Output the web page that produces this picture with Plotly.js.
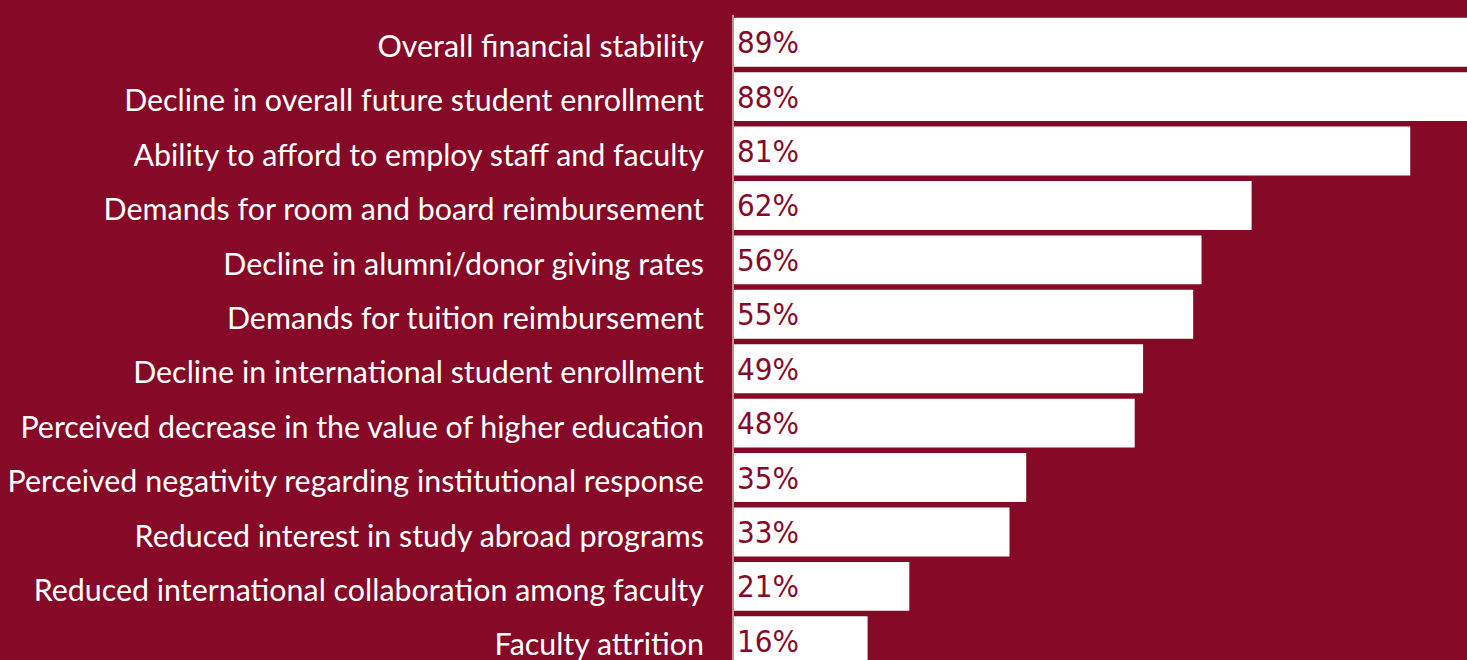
<!DOCTYPE html>
<html>
<head>
<meta charset="utf-8">
<script src="https://cdn.plot.ly/plotly-3.0.1.min.js"></script>
<style>
html, body { margin: 0; padding: 0; background: #860A27; overflow: hidden; }
#chart { width: 1467px; height: 680px; }
</style>
</head>
<body>
<div id="chart"></div>
<script>
const categories = [
  "Overall financial stability",
  "Decline in overall future student enrollment",
  "Ability to afford to employ staff and faculty",
  "Demands for room and board reimbursement",
  "Decline in alumni/donor giving rates",
  "Demands for tuition reimbursement",
  "Decline in international student enrollment",
  "Perceived decrease in the value of higher education",
  "Perceived negativity regarding institutional response",
  "Reduced interest in study abroad programs",
  "Reduced international collaboration among faculty",
  "Faculty attrition"
];
const values = [89, 88, 81, 62, 56, 55, 49, 48, 35, 33, 21, 16];
const valueLabels = values.map(v => v + "%");

const BG = "#860A27";

const trace = {
  type: "bar",
  orientation: "h",
  y: categories,
  x: values,
  text: valueLabels,
  textposition: "inside",
  insidetextanchor: "start",
  constraintext: "none",
  textfont: { family: "'Liberation Sans Narrow', 'DejaVu Sans Condensed', 'Liberation Sans', sans-serif", size: 31, color: BG },
  marker: { color: "#FFFFFF", line: { width: 0 } },
  hoverinfo: "none"
};

const layout = {
  width: 1467,
  height: 680,
  margin: { l: 734, r: 0, t: 15, b: 12, pad: 0 },
  paper_bgcolor: BG,
  plot_bgcolor: BG,
  bargap: 0.1,
  showlegend: false,
  xaxis: {
    range: [0, 87.8],
    showgrid: false,
    zeroline: false,
    showticklabels: false,
    showline: false,
    ticks: ""
  },
  yaxis: {
    type: "category",
    autorange: "reversed",
    showgrid: false,
    zeroline: false,
    showline: true,
    linecolor: "#C88A95",
    linewidth: 2,
    ticks: "",
    ticklabelstandoff: 22,
    ticklabelshift: -4,
    tickfont: { family: "Lato, 'Noto Sans', sans-serif", size: 30.4, color: "#FFFFFF" }
  }
};

Plotly.newPlot("chart", [trace], layout, { displayModeBar: false, staticPlot: true });
</script>
</body>
</html>
